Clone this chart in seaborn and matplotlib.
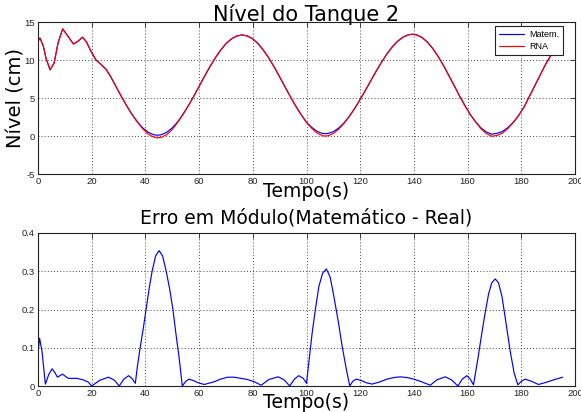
import matplotlib
matplotlib.use("Agg")
import numpy as np
import pandas as pd
import matplotlib.pyplot as plt
import seaborn as sns

# ---------------- data ----------------
tempo = [0, 0.75, 2, 3, 4.5, 6, 7.5, 9.2, 11, 13.2, 15, 16.6, 18, 19.8, 21.6, 23.5,
         25.3, 27, 29, 31, 33, 35, 37, 39, 41, 43, 44.5, 46, 48, 50, 52, 54, 56, 58,
         60, 62, 64, 66, 68, 70, 72, 74, 76, 78, 80, 82, 84, 86, 88, 90, 92, 94, 96,
         98, 100, 102, 104, 106, 107, 108, 110, 112, 114, 116, 118, 120, 122, 124,
         126, 128, 130, 132, 134, 136, 138, 139.5, 141, 143, 145, 147, 149, 151, 153,
         155, 157, 159, 161, 163, 165, 167, 169, 170, 171, 173, 175, 177, 179, 181,
         183, 185, 187, 189, 191, 193, 195.5]

nivel_matem = [12.5, 12.9, 11.8, 10.2, 8.7, 9.6, 12.3, 14.1, 13.2, 12.1, 12.5, 13.0,
               12.4, 11.1, 10.0, 9.4, 8.8, 7.85, 6.53, 5.23, 3.99, 2.85, 1.86, 1.07,
               0.5, 0.17, 0.1, 0.17, 0.5, 1.07, 1.86, 2.85, 3.99, 5.23, 6.53, 7.85,
               9.11, 10.27, 11.3, 12.15, 12.78, 13.17, 13.3, 13.17, 12.78, 12.14,
               11.28, 10.24, 9.06, 7.78, 6.47, 5.17, 3.94, 2.82, 1.8, 1.12, 0.6, 0.33,
               0.3, 0.33, 0.57, 1.05, 1.74, 2.62, 3.66, 4.83, 6.06, 7.32, 8.57, 9.75,
               10.83, 11.76, 12.5, 13.03, 13.33, 13.4, 13.32, 12.98, 12.37, 11.53,
               10.49, 9.3, 7.98, 6.63, 5.28, 4.0, 2.83, 1.85, 1.06, 0.52, 0.23, 0.3,
               0.35, 0.6, 1.1, 1.8, 2.7, 3.8, 5.2, 6.6, 8.0, 9.4, 10.6, 11.7, 12.7]

nivel_rna = [12.45, 12.85, 11.8, 10.2, 8.72, 9.6, 12.3, 14.1, 13.2, 12.1, 12.5, 13.0,
             12.4, 11.1, 10.0, 9.4, 8.8, 7.85, 6.53, 5.23, 3.99, 2.85, 1.84, 0.95,
             0.26, -0.13, -0.25, -0.17, 0.19, 0.86, 1.77, 2.84, 3.98, 5.22, 6.52,
             7.84, 9.1, 10.26, 11.28, 12.13, 12.76, 13.15, 13.28, 13.15, 12.76,
             12.12, 11.26, 10.22, 9.04, 7.76, 6.45, 5.15, 3.92, 2.8, 1.79, 0.99, 0.37,
             0.03, 0.0, 0.03, 0.33, 0.9, 1.67, 2.61, 3.65, 4.82, 6.05, 7.3, 8.55,
             9.73, 10.81, 11.74, 12.48, 13.01, 13.31, 13.38, 13.3, 12.96, 12.35,
             11.51, 10.47, 9.28, 7.96, 6.61, 5.26, 3.98, 2.81, 1.83, 0.94, 0.31,
             -0.04, 0.02, 0.08, 0.38, 0.98, 1.76, 2.69, 3.79, 5.19, 6.59, 7.99, 9.39,
             10.59, 11.69, 12.69]

tempo_erro = [0, 0.6, 1.5, 2.75, 4, 5.25, 6.3, 7.25, 9.1, 11.25, 14.4, 16.9, 18.75,
              20, 23, 26.25, 28.5, 30.25, 32, 33.75, 35, 36.25, 37, 38.1, 39.2, 40.25,
              41.4, 42.5, 43.8, 45.1, 46.4, 47.75, 49, 50.25, 51.4, 52.5, 53.75, 55,
              56.25, 58, 59.4, 61.9, 65.6, 68, 70.6, 73, 75.6, 78, 80.6, 83.1, 86,
              89.4, 91.5, 93.75, 95.5, 97.1, 98.8, 100, 101, 102.1, 103.3, 104.6, 106,
              107.4, 108.8, 110.2, 111.8, 113.3, 114.8, 116.1, 117.2, 118.5, 120.5,
              122.5, 124.4, 127, 130, 132.5, 134.9, 137.5, 139.9, 142.5, 146.1,
              148.5, 151.7, 154, 156.4, 158, 159.7, 161, 162.2, 163.8, 165.3, 166.5,
              167.8, 169, 170.3, 171.5, 172.8, 174.3, 175.8, 177.3, 178.7, 180,
              181.4, 183.5, 186.4, 189, 192, 195.4]

erro = [0.086, 0.125, 0.09, 0.005, 0.03, 0.045, 0.035, 0.023, 0.031, 0.02, 0.02,
        0.016, 0.01, 0.0, 0.015, 0.023, 0.015, 0.0, 0.018, 0.027, 0.02, 0.007, 0.05,
        0.103, 0.15, 0.2, 0.255, 0.3, 0.34, 0.354, 0.34, 0.3, 0.255, 0.2, 0.135,
        0.077, 0.0, 0.012, 0.018, 0.014, 0.009, 0.004, 0.011, 0.018, 0.023, 0.023,
        0.02, 0.017, 0.011, 0.002, 0.017, 0.024, 0.017, 0.0, 0.018, 0.027, 0.02,
        0.007, 0.07, 0.138, 0.2, 0.26, 0.295, 0.306, 0.285, 0.234, 0.17, 0.103,
        0.045, 0.0, 0.012, 0.018, 0.014, 0.008, 0.005, 0.01, 0.018, 0.022, 0.024,
        0.022, 0.018, 0.012, 0.002, 0.016, 0.024, 0.016, 0.0, 0.018, 0.027, 0.018,
        0.003, 0.07, 0.138, 0.19, 0.24, 0.27, 0.28, 0.27, 0.234, 0.165, 0.094,
        0.035, 0.003, 0.012, 0.018, 0.013, 0.004, 0.009, 0.016, 0.023]

series_names = ["Matem.", "RNA"]
x_ticks = [0, 20, 40, 60, 80, 100, 120, 140, 160, 180, 200]
y1_ticks = [-5, 0, 5, 10, 15]
y1_labels = ["-5", "0", "5", "10", "15"]
y2_ticks = [0, 0.1, 0.2, 0.3, 0.4]
y2_labels = ["0", "0.1", "0.2", "0.3", "0.4"]

# ---------------- style ----------------
sns.set_style("white")
plt.rcParams["font.family"] = ["DejaVu Sans"]
plt.rcParams["axes.unicode_minus"] = False
plt.rcParams["text.color"] = "black"
plt.rcParams["axes.labelcolor"] = "black"
plt.rcParams["axes.titlecolor"] = "black"

W, H = 581, 412
fig = plt.figure(figsize=(W / 100, H / 100), dpi=100)
fig.patch.set_facecolor("white")
ax1 = fig.add_axes([38 / W, 1 - 174 / H, 537 / W, 152 / H])
ax2 = fig.add_axes([38 / W, 1 - 386 / H, 537 / W, 153 / H])

n = len(tempo)
df_top = pd.DataFrame({
    "Tempo": tempo + tempo,
    "Nivel": nivel_matem + nivel_rna,
    "Serie": [series_names[0]] * n + [series_names[1]] * n,
})
palette = {series_names[0]: "#0000ff", series_names[1]: "#ff0000"}
sns.lineplot(data=df_top, x="Tempo", y="Nivel", hue="Serie", palette=palette,
             estimator=None, sort=False, lw=0.85, ax=ax1)

df_err = pd.DataFrame({"Tempo": tempo_erro, "Erro": erro})
sns.lineplot(data=df_err, x="Tempo", y="Erro", color="#0000ff", estimator=None,
             sort=False, lw=0.85, ax=ax2)

tick_font = {"family": "Liberation Sans", "size": 6.8, "color": "#222222"}

for ax in (ax1, ax2):
    ax.set_xlim(0, 200)
    ax.set_xticks(x_ticks)
    ax.set_xticklabels([str(v) for v in x_ticks], fontdict=tick_font)
    ax.grid(True, linestyle=(0, (1, 2.2)), color="#444444", linewidth=0.7)
    ax.tick_params(direction="in", top=True, right=True, length=3.5, width=0.6,
                   pad=2.5, color="#222222")
    for sp in ax.spines.values():
        sp.set_color("#222222")
        sp.set_linewidth(0.8)
    ax.set_facecolor("white")

ax1.set_ylim(-5, 15)
ax1.set_yticks(y1_ticks)
ax1.set_yticklabels(y1_labels, fontdict=tick_font)
ax2.set_ylim(0, 0.4)
ax2.set_yticks(y2_ticks)
ax2.set_yticklabels(y2_labels, fontdict=tick_font)

ax1.set_title("Nível do Tanque 2", fontsize=15, pad=1, color="black")
ax2.set_title("Erro em Módulo(Matemático - Real)", fontsize=13.5, pad=7, color="black")

ax1.set_xlabel("Tempo(s)", fontsize=13.5, color="black")
ax1.xaxis.set_label_coords(0.5, -0.055)
ax2.set_xlabel("Tempo(s)", fontsize=13.5, color="black")
ax2.xaxis.set_label_coords(0.5, -0.045)
ax1.set_ylabel("Nível (cm)", fontsize=14, color="black")
ax1.yaxis.set_label_coords(-0.024, 0.5)
ax2.set_ylabel("")

handles, labels = ax1.get_legend_handles_labels()
leg = ax1.legend(handles, labels, loc="upper right",
                 bbox_to_anchor=((563 - 38) / 537, (174 - 26) / 152),
                 borderaxespad=0, fancybox=False, framealpha=1,
                 edgecolor="#222222", prop={"family": "Liberation Sans", "size": 6.5},
                 handlelength=2.8, handletextpad=0.5, labelspacing=0.35,
                 borderpad=0.45)
leg.get_frame().set_linewidth(0.8)
for t in leg.get_texts():
    t.set_color("black")

fig.savefig("out.png", dpi=100, facecolor="white")
